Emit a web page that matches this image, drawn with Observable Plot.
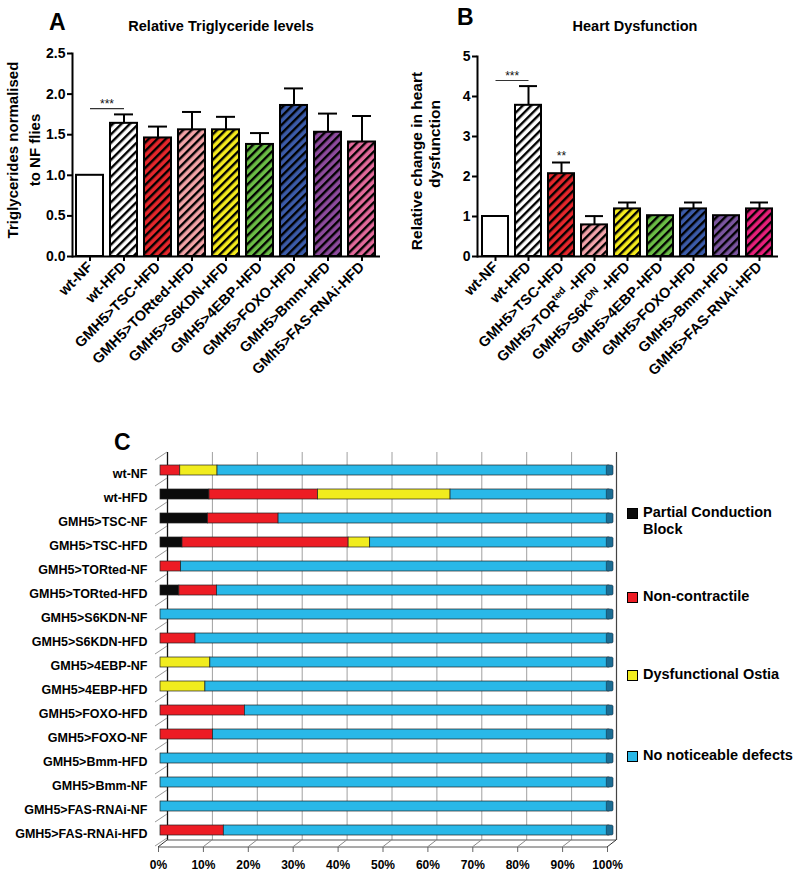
<!DOCTYPE html>
<html><head><meta charset="utf-8">
<script src="https://cdn.jsdelivr.net/npm/d3@7"></script>
<script src="https://cdn.jsdelivr.net/npm/@observablehq/plot@0.6"></script>
<style>
html,body{margin:0;padding:0;background:#fff;}
#root{position:relative;width:800px;height:877px;overflow:hidden;font-family:"Liberation Sans",Arial,Helvetica,sans-serif;font-weight:bold;color:#000;}
.panel{position:absolute;}
.legend-item{position:absolute;display:flex;align-items:flex-start;font-size:14.5px;line-height:17px;width:172px;}
.legend-item .sw{width:9px;height:9px;border:1px solid #000;margin-top:4px;margin-right:5px;flex:none;}
</style></head>
<body><div id="root"></div>
<script>
// ---------- Panel A data ----------
const catsA = ["wt-NF","wt-HFD","GMH5>TSC-HFD","GMH5>TORted-HFD","GMH5>S6KDN-HFD","GMH5>4EBP-HFD","GMH5>FOXO-HFD","GMH5>Bmm-HFD","GMh5>FAS-RNAi-HFD"];
const valuesA = [1.00, 1.64, 1.46, 1.56, 1.56, 1.38, 1.86, 1.53, 1.41];
const errA    = [0.00, 0.11, 0.14, 0.22, 0.16, 0.14, 0.21, 0.23, 0.32];
const colorsA = ["#ffffff","#ffffff","#e5262b","#f2a3a6","#f4ea1d","#6abd45","#3b5ba9","#8d4a9d","#e2699a"];
const yTicksA = [0, 0.5, 1.0, 1.5, 2.0, 2.5];
const sigA = [{from: "wt-NF", to: "wt-HFD", y: 1.82, label: "***"}];

// ---------- Panel B data ----------
const catsB = ["wt-NF","wt-HFD","GMH5>TSC-HFD","GMH5>TORted-HFD","GMH5>S6KDN-HFD","GMH5>4EBP-HFD","GMH5>FOXO-HFD","GMH5>Bmm-HFD","GMH5>FAS-RNAi-HFD"];
const valuesB = [1.00, 3.78, 2.07, 0.79, 1.19, 1.02, 1.19, 1.02, 1.19];
const errB    = [0.00, 0.48, 0.28, 0.22, 0.16, 0.00, 0.16, 0.00, 0.16];
const colorsB = ["#ffffff","#ffffff","#e5262b","#f2a3aa","#f4ea1d","#6abd45","#3b5ba9","#7b559f","#e71f7a"];
const yTicksB = [0, 1, 2, 3, 4, 5];
const sigB = [{from: "wt-NF", to: "wt-HFD", y: 4.40, label: "***"}];
const starsB = [{cat: "GMH5>TSC-HFD", y: 2.40, label: "**"}];
const supLabelsB = {"GMH5>TORted-HFD": ["GMH5>TOR", "ted", " -HFD"], "GMH5>S6KDN-HFD": ["GMH5>S6K", "DN", " -HFD"]};

// ---------- Panel C data (percent of flies) ----------
const rowsC = ["wt-NF","wt-HFD","GMH5>TSC-NF","GMH5>TSC-HFD","GMH5>TORted-NF","GMH5>TORted-HFD","GMH5>S6KDN-NF","GMH5>S6KDN-HFD","GMH5>4EBP-NF","GMH5>4EBP-HFD","GMH5>FOXO-HFD","GMH5>FOXO-NF","GMH5>Bmm-HFD","GMH5>Bmm-NF","GMH5>FAS-RNAi-NF","GMH5>FAS-RNAi-HFD"];
const typesC = ["Partial Conduction Block","Non-contractile","Dysfunctional Ostia","No noticeable defects"];
const colorsC = ["#0b0b0b","#ed1c24","#f1ec1e","#29b8e8"];
const blockC    = [0, 10.9, 10.6, 4.9, 0, 4.2, 0, 0, 0, 0, 0, 0, 0, 0, 0, 0];
const noncontrC = [4.4, 24.2, 15.7, 37.0, 4.6, 8.4, 0, 7.8, 0, 0, 18.8, 11.7, 0, 0, 0, 14.1];
const ostiaC    = [8.3, 29.5, 0, 4.8, 0, 0, 0, 0, 11.1, 10.0, 0, 0, 0, 0, 0, 0];
const noneC     = [87.3, 35.4, 73.7, 53.3, 95.4, 87.4, 100, 92.2, 88.9, 90.0, 81.2, 88.3, 100, 100, 100, 85.9];
const xTicksC = [0, 10, 20, 30, 40, 50, 60, 70, 80, 90, 100];

const FONT = '"Liberation Sans", Arial, Helvetica, sans-serif';
const root = document.getElementById("root");

function addHatch(svg, prefix, colors) {
  const defs = d3.select(svg).insert("defs", ":first-child");
  colors.forEach((c, i) => {
    const p = defs.append("pattern").attr("id", prefix + i)
      .attr("patternUnits", "userSpaceOnUse").attr("width", 6).attr("height", 6)
      .attr("patternTransform", "rotate(45)");
    p.append("rect").attr("width", 6).attr("height", 6).attr("fill", c);
    p.append("rect").attr("width", 2.4).attr("height", 6).attr("fill", "#000");
  });
}

function barPanel(cats, values, errs, colors, prefix, yDomain, yTicks, yFmt, opts, sig, stars) {
  const data = cats.map((c, i) => ({cat: c, v: values[i], e: errs[i]}));
  const errData = data.filter(d => d.e > 0);
  const fills = colors.map((c, i) => i === 0 ? c : `url(#${prefix}${i})`);
  const marks = [
    Plot.barY(data, {x: "cat", y: "v", fill: "cat", stroke: "#000", strokeWidth: 2}),
    Plot.ruleX(errData, {x: "cat", y1: "v", y2: d => d.v + d.e, stroke: "#000", strokeWidth: 2}),
    Plot.tickY(errData, {x: "cat", y: d => d.v + d.e, stroke: "#000", strokeWidth: 2, insetLeft: 4, insetRight: 4}),
    Plot.link(sig, {x1: "from", x2: "to", y1: "y", y2: "y", stroke: "#333", strokeWidth: 1.2}),
    Plot.text(sig, {x: "from", y: "y", text: "label", dx: opts.half, dy: -1, lineAnchor: "bottom", fontSize: 12, fontWeight: "normal", fill: "#111"}),
    Plot.axisY({ticks: yTicks, tickFormat: yFmt, tickSize: 5, tickPadding: 2, fontSize: 14, fontWeight: "bold", strokeWidth: 2}),
    Plot.axisX({tickSize: 5, tickPadding: 3, tickRotate: -45, fontSize: 14.5, fontWeight: "bold", strokeWidth: 2}),
    Plot.ruleY([0], {stroke: "#000", strokeWidth: 2}),
    Plot.frame({anchor: "left", stroke: "#000", strokeWidth: 2})
  ];
  if (stars) marks.push(Plot.text(stars, {x: "cat", y: "y", text: "label", dy: -1, lineAnchor: "bottom", fontSize: 12, fontWeight: "normal", fill: "#111"}));
  const svg = Plot.plot({
    width: 400, height: 360,
    marginLeft: opts.ml, marginRight: opts.mr, marginTop: opts.mt, marginBottom: 144,
    x: {domain: cats, paddingInner: 0.2, paddingOuter: opts.po, label: null},
    y: {domain: yDomain, label: null},
    color: {domain: cats, range: fills},
    style: {fontFamily: FONT, fontWeight: "bold", color: "#000", background: "transparent", overflow: "visible"},
    marks
  });
  addHatch(svg, prefix, colors);
  return svg;
}

// Panel A
const svgA = barPanel(catsA, valuesA, errA, colorsA, "pA", [0, 2.5], yTicksA, d3.format(".1f"),
  {ml: 72, mr: 20, mt: 13, po: 0.12, half: 17}, sigA, null);
svgA.classList.add("panel"); svgA.style.left = "0px"; svgA.style.top = "40px";
root.appendChild(svgA);

// Panel B
const svgB = barPanel(catsB, valuesB, errB, colorsB, "pB", [0, 5], yTicksB, d3.format("d"),
  {ml: 77, mr: 22, mt: 16, po: 0.1, half: 16.7}, sigB, starsB);
svgB.classList.add("panel"); svgB.style.left = "400px"; svgB.style.top = "40px";
root.appendChild(svgB);
d3.select(svgB).selectAll("text").each(function () {
  const parts = supLabelsB[this.textContent];
  if (!parts) return;
  const el = d3.select(this);
  el.text(null);
  el.append("tspan").text(parts[0]);
  el.append("tspan").attr("dy", -6).attr("font-size", 10).text(parts[1]);
  el.append("tspan").attr("dy", 6).text(parts[2]);
});

// Panel C
const longC = [];
rowsC.forEach((r, i) => {
  [blockC[i], noncontrC[i], ostiaC[i], noneC[i]].forEach((v, k) => {
    if (v > 0) longC.push({row: r, type: typesC[k], pct: v});
  });
});
const svgC = Plot.plot({
  width: 800, height: 437,
  marginLeft: 158, marginRight: 193, marginTop: 19, marginBottom: 30,
  x: {domain: [0, 100], label: null},
  y: {domain: rowsC, paddingInner: 0.6, paddingOuter: 0.3, label: null},
  color: {domain: typesC, range: colorsC},
  style: {fontFamily: FONT, fontWeight: "bold", color: "#000", background: "transparent", overflow: "visible"},
  marks: [
    Plot.ruleX(xTicksC.slice(1, -1), {stroke: "#a0a0a0", strokeWidth: 1, dx: 9, dy: -7}),
    Plot.ruleX([0], {stroke: "#111", strokeWidth: 1.3, dx: 9, dy: -7}),
    Plot.ruleX([100], {stroke: "#444", strokeWidth: 1.2, dx: 9, dy: -7}),
    Plot.barX(longC, Plot.stackX({y: "row", x: "pct", fill: "type", order: null, stroke: "#222", strokeWidth: 0.7, dx: 2, dy: -3})),
    Plot.barX(rowsC, {y: d => d, x1: 99.4, x2: 100.9, fill: "#1c6d93", stroke: "#123", strokeWidth: 0.5, rx: 1.5, dx: 2, dy: -3}),
    Plot.axisY({tickSize: 0, tickPadding: 11, fontSize: 12.5, fontWeight: "bold"}),
    Plot.axisX({ticks: xTicksC, tickFormat: d => d + "%", tickSize: 5, tickPadding: 8, fontSize: 12, fontWeight: "bold", stroke: "#666"})
  ]
});
svgC.classList.add("panel"); svgC.style.left = "0px"; svgC.style.top = "440px";
root.appendChild(svgC);
(function deco() {
  const sx = svgC.scale("x"), sy = svgC.scale("y");
  const [yt, yb] = sy.range;
  const g = d3.select(svgC).append("g").attr("fill", "none").attr("stroke", "#555").attr("stroke-width", 1);
  const x0 = sx.apply(0), x1 = sx.apply(100);
  g.append("line").attr("x1", x0).attr("x2", x1).attr("y1", yb).attr("y2", yb);
  g.append("line").attr("x1", x0 + 9).attr("x2", x1 + 9).attr("y1", yb - 7).attr("y2", yb - 7);
  xTicksC.forEach(v => {
    const x = sx.apply(v);
    g.append("line").attr("x1", x).attr("y1", yb).attr("x2", x + 9).attr("y2", yb - 7).attr("stroke", v === 0 || v === 100 ? "#333" : "#888");
  });
  const step = sy.step, bw = sy.bandwidth;
  const first = sy.apply(rowsC[0]) + bw / 2 - step / 2;
  for (let i = 0; i <= rowsC.length; i++) {
    const y = i === 0 ? yt : first + i * step;
    g.append("line").attr("x1", x0 - 3).attr("y1", y + 1).attr("x2", x0 + 9).attr("y2", y - 7).attr("stroke", "#999");
  }
})();

// Legend for C
const legendTops = [504, 588, 666, 747];
typesC.forEach((t, i) => {
  const d = document.createElement("div");
  d.className = "legend-item";
  d.style.left = "627px"; d.style.top = legendTops[i] + "px";
  d.innerHTML = `<span class="sw" style="background:${colorsC[i]}"></span><span>${t}</span>`;
  root.appendChild(d);
});

// Titles, panel letters, y-axis titles
const ov = d3.select(root).append("svg").attr("width", 800).attr("height", 877)
  .style("position", "absolute").style("left", 0).style("top", 0).style("pointer-events", "none")
  .attr("font-family", FONT).attr("font-weight", "bold").attr("fill", "#000");
const labels = [
  {t: "A", x: 49, y: 29.5, s: 23, a: "start"},
  {t: "Relative Triglyceride levels", x: 221, y: 31, s: 14.5, a: "middle"},
  {t: "B", x: 457, y: 25, s: 23, a: "start"},
  {t: "Heart Dysfunction", x: 635, y: 31, s: 14.5, a: "middle"},
  {t: "C", x: 114, y: 450, s: 23, a: "start"},
  {t: "Triglycerides normalised", x: 18, y: 150, s: 15, a: "middle", r: -90},
  {t: "to NF flies", x: 40, y: 150, s: 15, a: "middle", r: -90},
  {t: "Relative change in heart", x: 422, y: 161, s: 15.5, a: "middle", r: -90},
  {t: "dysfunction", x: 440, y: 144, s: 15.5, a: "middle", r: -90}
];
labels.forEach(l => {
  ov.append("text").attr("transform", `translate(${l.x},${l.y})` + (l.r ? ` rotate(${l.r})` : ""))
    .attr("font-size", l.s).attr("text-anchor", l.a).text(l.t);
});
</script></body></html>
